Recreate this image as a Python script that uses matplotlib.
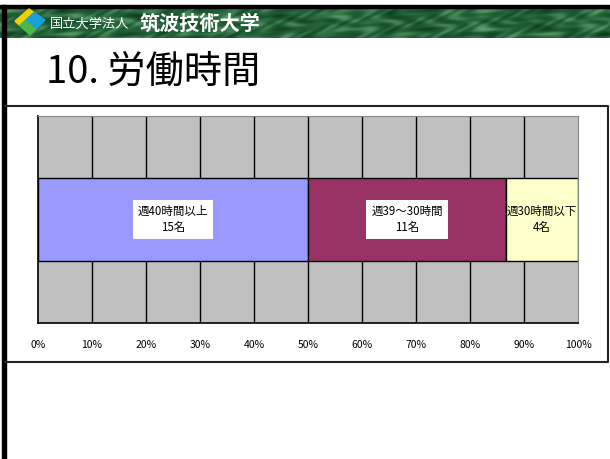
import numpy as np
import matplotlib
matplotlib.use("Agg")
import matplotlib.pyplot as plt
from matplotlib.patches import Rectangle, Polygon
from matplotlib.colors import LinearSegmentedColormap

plt.rcParams['font.family'] = ['Noto Sans CJK JP', 'DejaVu Sans']

# ---- data ----
categories = ["週40時間以上", "週39～30時間", "週30時間以下"]
counts = [15, 11, 4]
colors = ["#9999FF", "#993366", "#FFFFCC"]
tick_vals = [0, 10, 20, 30, 40, 50, 60, 70, 80, 90, 100]
tick_labels = [f"{v}%" for v in tick_vals]
title = "10. 労働時間"

W, H = 610, 459
fig = plt.figure(figsize=(W / 100, H / 100), dpi=100)

# background (pixel coordinates)
bg = fig.add_axes([0, 0, 1, 1])
bg.set_xlim(0, W)
bg.set_ylim(H, 0)
bg.axis("off")

# green banner with soft marble-like texture
yy, xx = np.mgrid[0:30, 0:610].astype(float)
tex = (0.5 + 0.2 * np.sin(xx / 9.0 + 2 * np.sin(yy / 4.0))
       * np.cos(xx / 17.0 - yy / 6.0)
       + 0.12 * np.sin(xx / 4.3 + 3 * np.cos(xx / 11.0 + yy / 3.0))
       + 0.08 * np.cos(yy / 2.5 - xx / 23.0))
cm = LinearSegmentedColormap.from_list("g", ["#0f3d1c", "#24633a", "#5d9a6c"])
bg.imshow(tex, cmap=cm, extent=[0, W, 38, 8], aspect="auto", zorder=1)
bg.add_patch(Rectangle((0, 4.5), W, 3.5, color="black", zorder=2))
bg.add_patch(Rectangle((2, 4.5), 4, H, color="black", zorder=2))

# logo (diamond split into three bands)
L = np.array([15.0, 21.0]); T = np.array([29.0, 9.0])
R = np.array([45.0, 20.0]); B = np.array([30.0, 35.0])
P1 = L + 0.32 * (B - L); P2 = T + 0.32 * (R - T)
Q1 = P1 + 0.38 * (P2 - P1); Q2 = B + 0.38 * (R - B)
bg.add_patch(Polygon([L, T, P2, P1], closed=True, color="#F2CF00", zorder=3))
bg.add_patch(Polygon([Q1, P2, R, Q2], closed=True, color="#1AA0D8", zorder=3))
bg.add_patch(Polygon([P1, Q1, Q2, B], closed=True, color="#4DB848", zorder=3))

bg.text(50, 24, "国立大学法人", color="white", fontsize=9.5, va="center", ha="left", zorder=4)
bg.text(140, 23, "筑波技術大学", color="white", fontsize=14.5, fontweight="bold",
        va="center", ha="left", zorder=4)

bg.text(46, 72, title, color="black", fontsize=27.5, va="center", ha="left", zorder=4)

# chart frame
bg.plot([5, 608, 608, 5], [105.5, 105.5, 362, 362], color="#222222", lw=1.5, zorder=2)

# ---- chart ----
ax = fig.add_axes([38 / W, 1 - 323 / H, 540 / W, 207 / H])
ax.set_facecolor("#C0C0C0")
total = sum(counts)
pcts = [c / total * 100 for c in counts]
left = 0
for cat, c, p, col in zip(categories, counts, pcts, colors):
    ax.barh(0, p, left=left, height=0.4, color=col, edgecolor="black", lw=1, zorder=3)
    mid = left + p / 2
    kw = dict(ha="center", va="center", fontsize=8.3, linespacing=1.35, zorder=4)
    if col != "#FFFFCC":
        kw["bbox"] = dict(facecolor="white", edgecolor="none", pad=3.5)
    ax.text(mid, 0, f"{cat}\n{c}名", **kw)
    left += p

ax.set_xlim(0, 100)
ax.set_ylim(-0.5, 0.5)
for v in tick_vals[1:-1]:
    ax.axvline(v, color="black", lw=1, zorder=1)
ax.set_xticks(tick_vals)
ax.set_xticklabels(tick_labels, fontsize=7.5)
ax.tick_params(axis="x", length=0, pad=12)
ax.set_yticks([])
ax.spines["left"].set_color("black")
ax.spines["bottom"].set_color("black")
ax.spines["left"].set_linewidth(1.2)
ax.spines["bottom"].set_linewidth(1.2)
ax.spines["top"].set_color("#888888")
ax.spines["right"].set_color("#888888")

fig.savefig("out.png", dpi=100)
